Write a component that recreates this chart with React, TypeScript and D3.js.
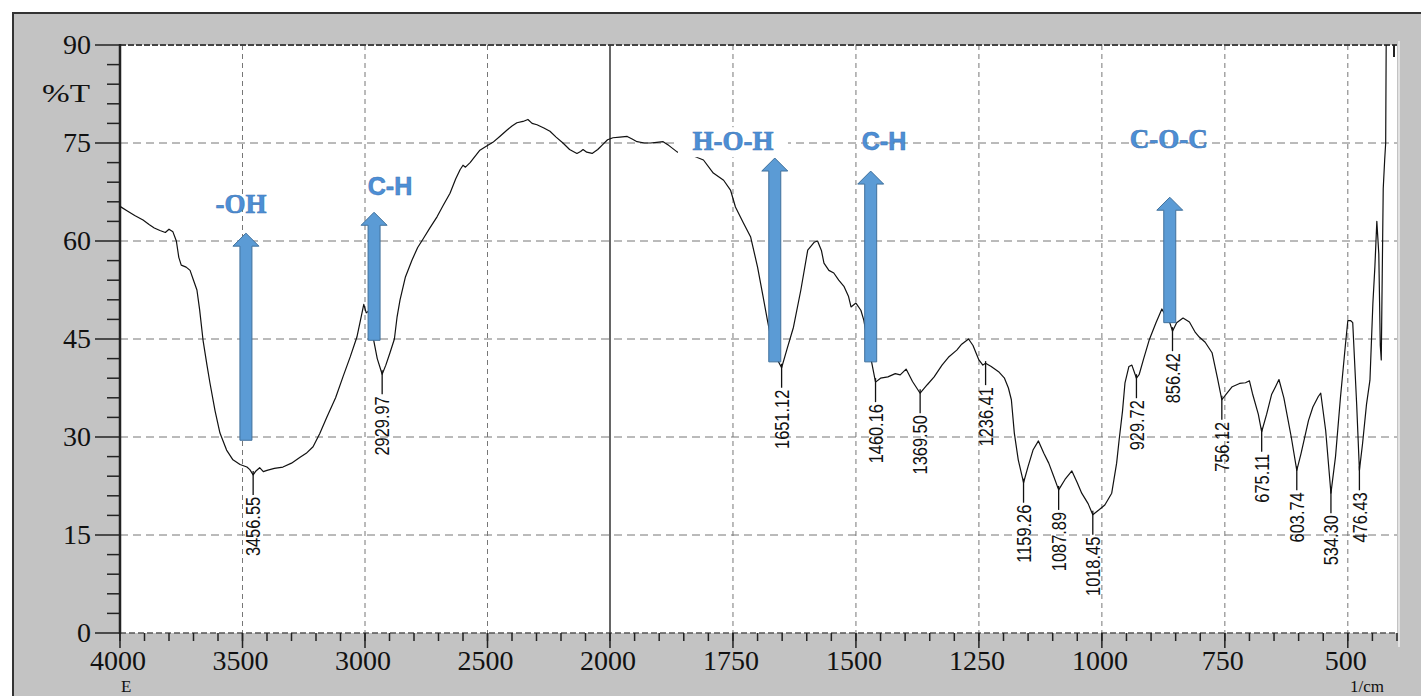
import React from 'react';
import * as d3 from 'd3';

const W = 1421;
const H = 696;

// Spectrum (wavenumber 1/cm, %T)
const wavenumbers = [
  4000, 3970, 3940, 3906, 3880, 3860, 3837, 3815, 3800, 3784, 3770, 3760, 3750, 3730, 3714, 3700, 3686, 3675,
  3661, 3645, 3633, 3612, 3592, 3565, 3539, 3510, 3482, 3470, 3456.55, 3445, 3430, 3415, 3400, 3370, 3335, 3300,
  3265, 3240, 3212, 3185, 3155, 3120, 3090, 3060, 3033, 3015, 3005, 2995, 2985, 2967, 2950, 2929.97, 2915, 2898,
  2880, 2869, 2857, 2835, 2808, 2785, 2763, 2735, 2706, 2680, 2653, 2630, 2612, 2600, 2590, 2571, 2531, 2505,
  2478, 2450, 2420, 2400, 2380, 2355, 2335, 2318, 2298, 2270, 2245, 2220, 2192, 2165, 2135, 2120, 2110, 2095,
  2073, 2050, 2029, 2010, 1994, 1980, 1965, 1955, 1945, 1930, 1918, 1905, 1892, 1880, 1863, 1850, 1830, 1810,
  1790, 1769, 1755, 1745, 1729, 1714, 1700, 1690, 1680, 1667, 1651.12, 1640, 1627, 1612, 1598, 1585, 1578, 1570,
  1565, 1555, 1545, 1535, 1524, 1515, 1510, 1500, 1490, 1484, 1475, 1469, 1460.16, 1450, 1435, 1420, 1410, 1398,
  1385, 1369.5, 1355, 1341, 1325, 1312, 1295, 1285, 1271, 1262, 1250, 1242, 1236.41, 1225, 1210, 1198, 1190, 1184,
  1178, 1170, 1159.26, 1150, 1140, 1129, 1118, 1108, 1098, 1087.89, 1075, 1061, 1050, 1041, 1028, 1018.45, 1005,
  994, 980, 970, 965, 958, 953, 945, 939, 929.72, 924, 915, 904, 890, 878, 870, 862, 856.42, 848, 835, 822, 810,
  802, 790, 776, 765, 756.12, 748, 735, 720, 708, 700, 694, 682, 675.11, 665, 655, 647, 640, 630, 615, 603.74,
  595, 580, 571, 560, 555, 545, 534.3, 525, 515, 505, 500, 494, 490, 482, 476.43, 470, 462, 455, 449, 445, 441,
  437, 434, 432, 430, 428, 425, 423, 422,
];
const transmittance = [
  65.3, 64.6, 63.9, 63.2, 62.5, 62.0, 61.6, 61.3, 61.8, 61.4, 60.0, 57.5, 56.3, 56.0, 55.5, 54.0, 52.5, 49.5,
  44.8, 41.0, 38.3, 34.0, 30.6, 28.0, 26.5, 25.8, 25.4, 25.0, 24.2, 24.8, 25.3, 24.7, 24.9, 25.2, 25.4, 26.0,
  26.9, 27.5, 28.5, 30.5, 33.1, 36.0, 39.2, 42.3, 45.3, 48.5, 50.3, 49.0, 49.3, 45.3, 42.0, 39.6, 41.0, 42.9,
  45.0, 48.4, 51.0, 54.5, 57.1, 59.0, 60.3, 62.0, 63.7, 65.5, 67.3, 69.5, 70.9, 71.6, 71.3, 72.0, 73.9, 74.5,
  75.1, 76.0, 77.0, 77.6, 78.1, 78.3, 78.6, 78.0, 77.8, 77.3, 76.8, 75.9, 75.0, 74.0, 73.4, 73.7, 74.0, 73.6,
  73.4, 74.0, 74.8, 75.5, 75.8, 75.9, 76.0, 75.6, 75.2, 75.0, 75.0, 75.1, 75.2, 74.6, 73.6, 73.5, 73.0, 72.4,
  70.4, 69.3, 67.8, 65.2, 62.8, 60.6, 56.0, 52.0, 47.9, 42.9, 40.6, 43.5, 46.8, 52.5, 58.6, 59.8, 60.0, 58.5,
  56.6, 55.5, 55.1, 54.0, 53.0, 51.5, 49.9, 50.5, 49.4, 47.9, 44.0, 41.8, 38.4, 39.0, 39.2, 39.7, 39.5, 40.4,
  38.5, 36.7, 38.0, 39.2, 41.0, 42.2, 43.3, 44.2, 45.0, 44.0, 41.8, 41.0, 41.3, 40.8, 40.0, 39.0, 37.5, 35.7,
  30.6, 26.5, 23.0, 25.5, 28.0, 29.4, 27.5, 26.0, 24.0, 21.9, 23.5, 24.8, 23.0, 21.4, 19.8, 18.1, 18.9,
  19.6, 21.4, 26.0, 29.5, 34.0, 38.3, 40.8, 41.0, 39.0, 39.6, 42.0, 44.8, 47.5, 49.6, 48.5, 47.5, 46.2, 47.5, 48.2, 47.6, 46.0,
  45.3, 44.5, 42.9, 39.0, 35.7, 36.5, 37.7, 38.2, 38.3, 38.6, 36.7, 33.5, 30.8, 33.5, 36.5, 37.7, 38.8, 36.0, 30.0, 24.9,
  27.5, 32.5, 34.6, 36.2, 36.7, 31.0, 21.4, 27.0, 36.0, 44.0, 47.8, 47.8, 47.5, 35.0, 24.9, 29.0, 35.0, 38.7, 50.5, 56.0, 63.0,
  58.0, 44.0, 41.8, 55.0, 68.0, 72.5, 75.0, 90.0,
];

// Labelled peaks
const peakNames = ['3456.55', '2929.97', '1651.12', '1460.16', '1369.50', '1236.41', '1159.26', '1087.89',
  '1018.45', '929.72', '856.42', '756.12', '675.11', '603.74', '534.30', '476.43'];
const peakValues = [24.2, 39.6, 40.6, 38.4, 36.7, 41.0, 23.0, 21.9, 18.1, 39.0, 46.2, 35.7, 30.8, 24.9, 21.4, 24.9];

// Band assignments (arrows)
const bandNames = ['-OH', 'C-H', 'H-O-H', 'C-H', 'C-O-C'];
const bandSerif = [true, false, true, false, true];
const bandWn = [3486, 2963, 1665, 1470, 862];
const bandFrom = [29.5, 44.8, 41.5, 41.5, 47.5];
const bandTo = [61.2, 64.4, 72.7, 70.7, 66.7];
const bandLabelWn = [3506, 2898, 1750, 1443, 864];
const bandLabelT = [64.3, 67.0, 73.9, 73.9, 74.2];

// Axis ticks
const xMajorLeft = [4000, 3500, 3000, 2500, 2000];
const xMajorRight = [1750, 1500, 1250, 1000, 750, 500];
const yMajor = [0, 15, 30, 45, 60, 75, 90];

export default function App() {
  const left = 120, right = 1397, top = 45, bottom = 633;
  const x = d3.scaleLinear().domain([4000, 2000, 400]).range([left, 610, right]);
  const y = d3.scaleLinear().domain([0, 90]).range([bottom, top]);

  const pts: [number, number][] = wavenumbers.map((w, i) => [w, transmittance[i]]);
  const line = d3.line<[number, number]>().x((d) => x(d[0])).y((d) => y(d[1]));

  const minorX: number[] = [
    ...d3.range(4000, 2000, -100),
    ...d3.range(2000, 399, -50),
  ];
  const minorY = d3.range(0, 91, 3);
  const majorX = [...xMajorLeft, ...xMajorRight];

  const serif = '"Liberation Serif", "Times New Roman", serif';
  const sans = '"Liberation Sans", Arial, sans-serif';
  const blue = '#5b9bd5';

  return (
    <svg width={W} height={H} viewBox={`0 0 ${W} ${H}`}
      style={{ position: 'absolute', left: 0, top: 0, display: 'block', background: '#fff' }}>
      {/* window panel */}
      <rect x={12} y={12} width={W - 12} height={H - 12} fill="#c3c3c3" />
      <line x1={12} y1={13} x2={W} y2={13} stroke="#333" strokeWidth={2} />
      <line x1={13} y1={12} x2={13} y2={H} stroke="#333" strokeWidth={2} />
      <rect x={left} y={top} width={right - left} height={bottom - top} fill="#fff" />
      <line x1={right + 2} y1={top - 4} x2={right + 2} y2={bottom + 14} stroke="#e2e2e2" strokeWidth={2} />

      {/* grid */}
      {yMajor.filter((v) => v > 0 && v < 90).map((v) => (
        <line key={'gy' + v} x1={left} x2={right} y1={y(v)} y2={y(v)} stroke="#777" strokeWidth={1} strokeDasharray="8,5" />
      ))}
      {majorX.filter((v) => v !== 4000 && v !== 2000).map((v) => (
        <line key={'gx' + v} x1={x(v)} x2={x(v)} y1={top} y2={bottom} stroke="#777" strokeWidth={1} strokeDasharray="5,4" />
      ))}
      <line x1={left} x2={right} y1={top} y2={top} stroke="#444" strokeWidth={2} strokeDasharray="6,2" />
      <line x1={left} x2={right} y1={bottom} y2={bottom} stroke="#555" strokeWidth={1.5} strokeDasharray="6,3" />
      <line x1={x(2000)} x2={x(2000)} y1={top} y2={bottom} stroke="#333" strokeWidth={1.5} />
      <line x1={x(400) - 3} x2={x(400) - 3} y1={top} y2={top + 12} stroke="#222" strokeWidth={2} />

      {/* y axis */}
      <line x1={left} x2={left} y1={top - 1} y2={bottom + 1} stroke="#222" strokeWidth={2.5} />
      {minorY.map((v) => (
        <line key={'my' + v} x1={v % 15 === 0 ? 95 : 107} x2={left} y1={y(v)} y2={y(v)} stroke="#222" strokeWidth={1.5} />
      ))}
      {yMajor.map((v) => (
        <text key={'ly' + v} x={91} y={y(v) + 9} textAnchor="end" fontFamily={serif} fontSize={28} fill="#111">{v}</text>
      ))}
      <text x={42} y={102} fontFamily={serif} fontSize={26} fill="#111" textLength={48} lengthAdjust="spacingAndGlyphs">%T</text>

      {/* x axis */}
      {minorX.map((v) => (
        <line key={'mx' + v} x1={x(v)} x2={x(v)} y1={bottom} y2={bottom + 8} stroke="#222" strokeWidth={1.5} />
      ))}
      {majorX.map((v) => (
        <line key={'Mx' + v} x1={x(v)} x2={x(v)} y1={bottom} y2={bottom + 15} stroke="#222" strokeWidth={1.5} />
      ))}
      {majorX.map((v) => (
        <text key={'lx' + v} x={x(v) - 2} y={670} textAnchor="middle" fontFamily={serif} fontSize={28} fill="#111">{v}</text>
      ))}
      <text x={121} y={692} fontFamily={serif} fontSize={17} fill="#111">E</text>
      <text x={1350} y={692} fontFamily={serif} fontSize={17} fill="#111">1/cm</text>

      {/* spectrum */}
      <path d={line(pts) || ''} fill="none" stroke="#111" strokeWidth={1.2} strokeLinejoin="round" />

      {/* peak labels */}
      {peakNames.map((name, i) => {
        const px = x(parseFloat(name));
        const py = y(peakValues[i]);
        return (
          <g key={'pk' + i}>
            <line x1={px} x2={px} y1={py - 4} y2={py + 20} stroke="#111" strokeWidth={1.3} />
            <text transform={`translate(${px},${py + 22}) rotate(-90) scale(0.82,1)`} textAnchor="end" dy="0.36em"
              fontFamily={sans} fontSize={20} fill="#111">{name}</text>
          </g>
        );
      })}

      {/* band arrows */}
      {bandNames.map((name, i) => {
        const cx = x(bandWn[i]);
        const yb = y(bandFrom[i]);
        const yt = y(bandTo[i]);
        const w = 12, hw = 26, hh = 13;
        const d = `M${cx - w / 2},${yb} L${cx - w / 2},${yt + hh} L${cx - hw / 2},${yt + hh} L${cx},${yt} L${cx + hw / 2},${yt + hh} L${cx + w / 2},${yt + hh} L${cx + w / 2},${yb} Z`;
        return <path key={'ar' + i} d={d} fill={blue} stroke="#41719c" strokeWidth={1} />;
      })}
      {bandNames.map((name, i) => {
        const lx = x(bandLabelWn[i]);
        const ly = y(bandLabelT[i]);
        return (
          <g key={'bl' + i}>
            {name === 'H-O-H' && <rect x={lx - 55} y={ly - 23} width={110} height={30} fill="#fff" />}
            <text x={lx} y={ly} textAnchor="middle" fontFamily={bandSerif[i] ? serif : sans} fontWeight="bold"
              fontSize={bandSerif[i] ? 27 : 25} fill="#4d8fd6" stroke="#3f78b8" strokeWidth={0.6}>{name}</text>
          </g>
        );
      })}
    </svg>
  );
}
